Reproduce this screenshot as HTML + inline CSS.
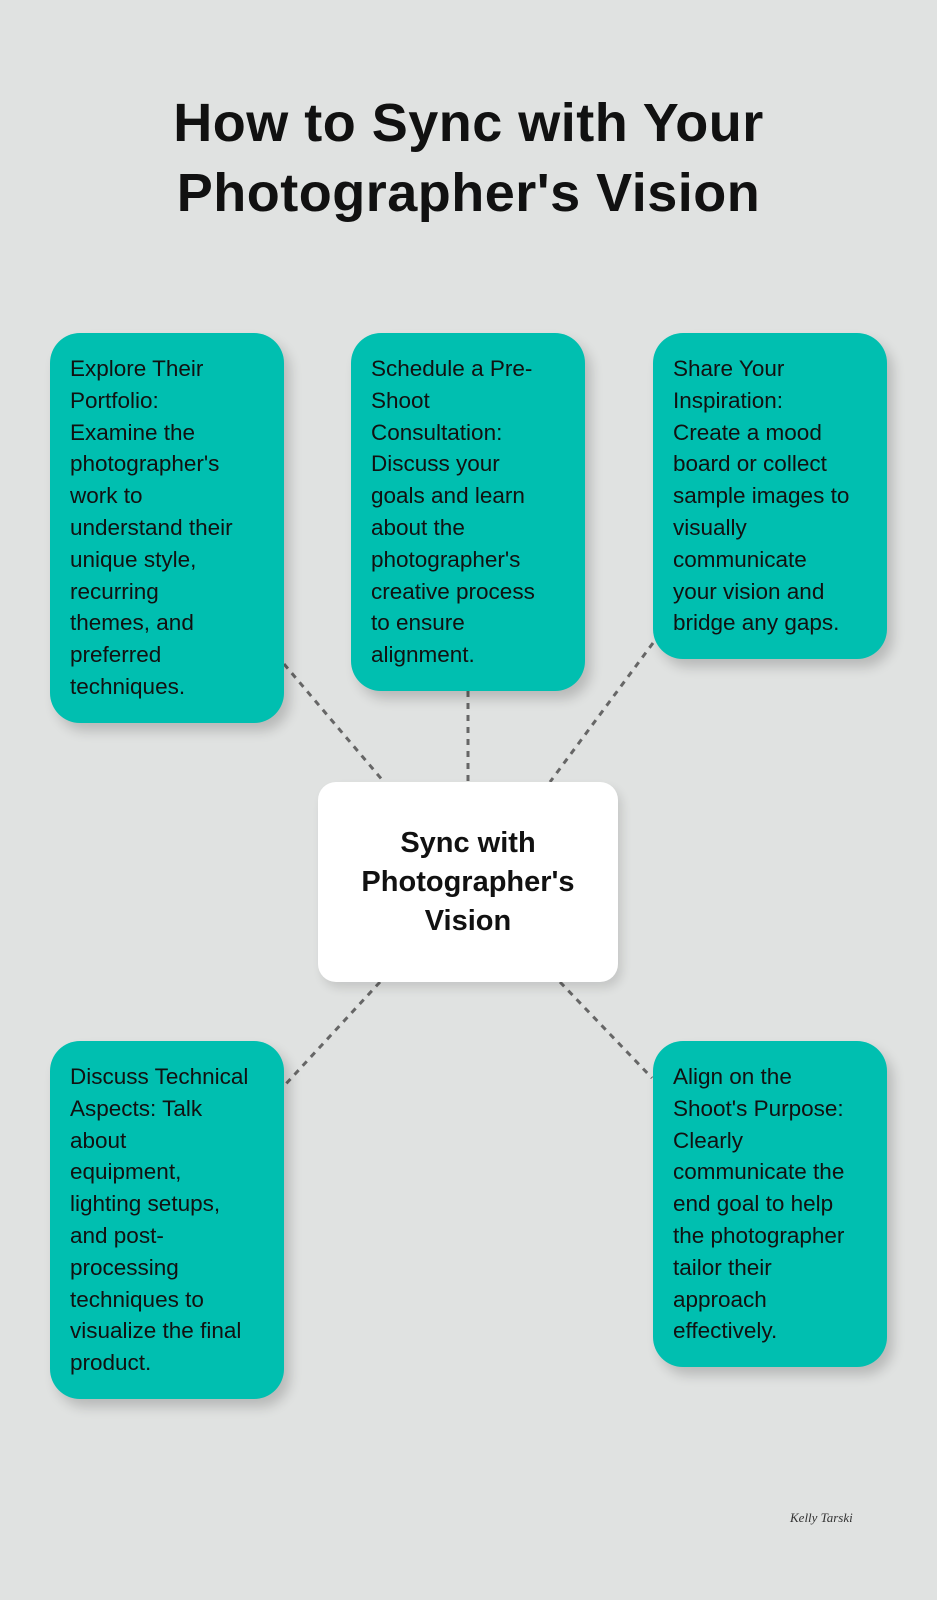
<!DOCTYPE html>
<html><head><style>
body{margin:0;width:937px;height:1600px;background:#e0e2e1;position:relative;font-family:"Liberation Sans",sans-serif;overflow:hidden}
h1{position:absolute;top:88px;left:0;width:937px;margin:0;text-align:center;font-size:54px;line-height:70px;font-weight:bold;color:#111;letter-spacing:0.5px}
.b{position:absolute;background:#00bfb0;border-radius:30px;box-shadow:6px 8px 12px rgba(0,0,0,0.18);box-sizing:border-box;padding:20px 0 0 20px;font-size:22.5px;line-height:31.8px;color:#111;white-space:nowrap}
.c{position:absolute;background:#fff;border-radius:18px;box-shadow:4px 6px 10px rgba(0,0,0,0.12);display:flex;align-items:center;justify-content:center;text-align:center;font-weight:bold;font-size:29px;line-height:39px;color:#111}
svg{position:absolute;left:0;top:0}
</style></head><body>
<h1>How to Sync with Your<br>Photographer's Vision</h1>
<svg width="937" height="1600"><g stroke="#666" stroke-width="3" stroke-dasharray="6,6" fill="none">
<line x1="284" y1="664" x2="384" y2="782"/><line x1="468" y1="691" x2="468" y2="782"/><line x1="653" y1="643" x2="550" y2="782"/>
<line x1="380" y1="982" x2="284" y2="1086"/><line x1="560" y1="982" x2="652" y2="1078"/></g>
<text x="790" y="1522" font-family="Liberation Serif" font-style="italic" font-size="13" fill="#333">Kelly Tarski</text></svg>
<div class="b" style="left:50px;top:333px;width:234px;height:390px">Explore Their<br>Portfolio:<br>Examine the<br>photographer's<br>work to<br>understand their<br>unique style,<br>recurring<br>themes, and<br>preferred<br>techniques.</div>
<div class="b" style="left:351px;top:333px;width:234px;height:358px">Schedule a Pre-<br>Shoot<br>Consultation:<br>Discuss your<br>goals and learn<br>about the<br>photographer's<br>creative process<br>to ensure<br>alignment.</div>
<div class="b" style="left:653px;top:333px;width:234px;height:326px">Share Your<br>Inspiration:<br>Create a mood<br>board or collect<br>sample images to<br>visually<br>communicate<br>your vision and<br>bridge any gaps.</div>
<div class="b" style="left:50px;top:1041px;width:234px;height:358px">Discuss Technical<br>Aspects: Talk<br>about<br>equipment,<br>lighting setups,<br>and post-<br>processing<br>techniques to<br>visualize the final<br>product.</div>
<div class="b" style="left:653px;top:1041px;width:234px;height:326px">Align on the<br>Shoot's Purpose:<br>Clearly<br>communicate the<br>end goal to help<br>the photographer<br>tailor their<br>approach<br>effectively.</div>
<div class="c" style="left:318px;top:782px;width:300px;height:200px">Sync with<br>Photographer's<br>Vision</div>
</body></html>
